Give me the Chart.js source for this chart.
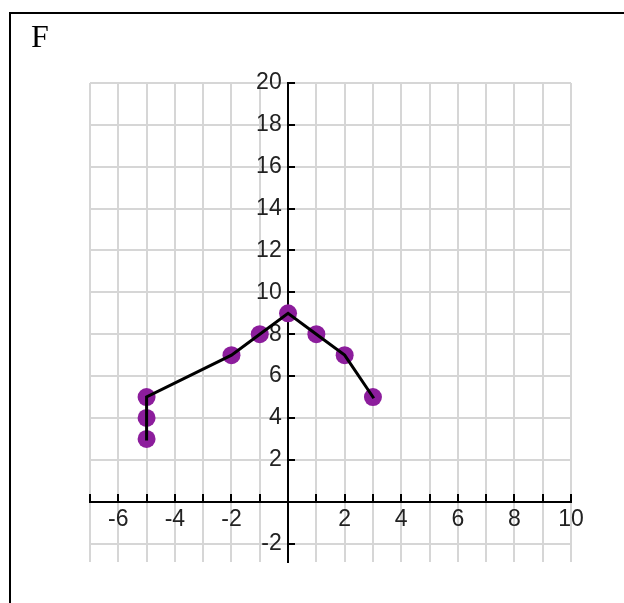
<!DOCTYPE html>
<html>
<head>
<meta charset="utf-8">
<script src="https://cdn.jsdelivr.net/npm/chart.js@4.4.1/dist/chart.umd.min.js"></script>
<style>
  html, body { margin: 0; padding: 0; background: #fff; }
  #graph { display: block; }
</style>
</head>
<body>
<canvas id="graph" width="624" height="603"></canvas>
<script>
// plotted points, joined in this order
const xValues = [-5, -5, -5, -2, -1, 0, 1, 2, 3];
const yValues = [3, 4, 5, 7, 8, 9, 8, 7, 5];

// grid positions on each axis
const xTicks = [-7, -6, -5, -4, -3, -2, -1, 0, 1, 2, 3, 4, 5, 6, 7, 8, 9, 10];
const yTicks = [-2, 0, 2, 4, 6, 8, 10, 12, 14, 16, 18, 20];

// only these get a number printed next to the axis
const xLabels = [-6, -4, -2, 2, 4, 6, 8, 10];
const yLabels = [-2, 2, 4, 6, 8, 10, 12, 14, 16, 18, 20];

const panelLetter = 'F';

const points = xValues.map((x, i) => ({ x: x, y: yValues[i] }));
const tickFont = { family: '"Liberation Sans", Arial, sans-serif', size: 23 };

// white page, the open box round the graph and the panel letter
const framePlugin = {
    id: 'frame',
    beforeDraw(chart) {
        const ctx = chart.ctx;
        ctx.save();
        ctx.fillStyle = '#fff';
        ctx.fillRect(0, 0, chart.width, chart.height);
        ctx.strokeStyle = '#000';
        ctx.lineWidth = 2;
        ctx.beginPath();
        ctx.moveTo(10, chart.height);
        ctx.lineTo(10, 13);
        ctx.lineTo(chart.width, 13);
        ctx.stroke();
        ctx.fillStyle = '#000';
        ctx.font = '32px "Liberation Serif", "Times New Roman", serif';
        ctx.fillText(panelLetter, 31, 47);
        ctx.restore();
    }
};

const ctx = document.getElementById('graph').getContext('2d');
new Chart(ctx, {
    type: 'scatter',
    data: {
        datasets: [
            {
                // joining line, kept on top of the dots
                data: points,
                showLine: true,
                borderColor: '#000',
                borderWidth: 3,
                borderCapStyle: 'square',
                pointRadius: 0,
                fill: false
            },
            {
                data: points,
                showLine: false,
                pointRadius: 9,
                pointBackgroundColor: '#8c1d9c',
                pointBorderWidth: 0
            }
        ]
    },
    options: {
        responsive: false,
        animation: false,
        layout: { padding: { left: 90, top: 83, right: 53, bottom: 41 } },
        plugins: {
            legend: { display: false },
            tooltip: { enabled: false }
        },
        scales: {
            x: {
                type: 'linear',
                min: -7,
                max: 10,
                position: { y: 0 },
                afterBuildTicks: scale => { scale.ticks = xTicks.map(v => ({ value: v })); },
                afterFit: scale => { scale.height = 0; },
                grid: { color: '#d6d6d6', lineWidth: 2, tickLength: -9, tickColor: '#000', tickWidth: 2 },
                border: { color: '#000', width: 2 },
                ticks: {
                    autoSkip: false,
                    maxRotation: 0,
                    padding: 13,
                    color: '#222',
                    font: tickFont,
                    callback: v => xLabels.includes(v) ? String(v) : ''
                }
            },
            y: {
                type: 'linear',
                min: -2.88,
                max: 20,
                position: { x: 0 },
                afterBuildTicks: scale => { scale.ticks = yTicks.map(v => ({ value: v })); },
                afterFit: scale => { scale.width = 0; },
                grid: { color: '#d6d6d6', lineWidth: 2, tickLength: -8, tickColor: '#000', tickWidth: 2 },
                border: { color: '#000', width: 2 },
                ticks: {
                    autoSkip: false,
                    color: '#222',
                    font: tickFont,
                    // labels sit right-aligned on the axis line, the trailing space keeps them off it
                    callback: v => yLabels.includes(v) ? v + ' ' : ''
                }
            }
        }
    },
    plugins: [framePlugin]
});
</script>
</body>
</html>
